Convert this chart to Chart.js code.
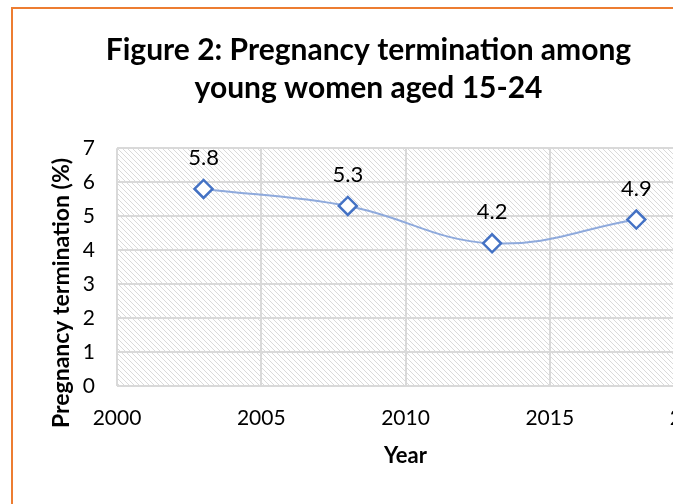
<!doctype html>
<html lang="en">
<head>
  <meta charset="utf-8">
  <title>Pregnancy termination</title>
  <style>
    html, body { margin: 0; padding: 0; background: #fff; overflow: hidden; }
    #frame {
      position: absolute; left: 11px; top: 7px;
      width: 660px; height: 497px;
      border-left: 2px solid #ED7D31; border-top: 2px solid #ED7D31;
      overflow: hidden;
    }
  </style>
</head>
<body>
  <div id="frame">
    <canvas id="myChart" width="740" height="495"></canvas>
  </div>
  <script src="https://cdn.jsdelivr.net/npm/chart.js"></script>
  <script>
    const years = [2003, 2008, 2013, 2018];
    const termination = [5.8, 5.3, 4.2, 4.9];
    // \u200C keeps Lato from merging "ti" into a ligature
    const titleLines = ['Figure 2: Pregnancy termina\u200Ction among', 'young women aged 15-24'];
    const yTitle = 'Pregnancy termina\u200Ction (%)';
    const xTitle = 'Year';

    const FONT = 'Lato';

    // light grey downward-diagonal hatch for the plot area
    const tile = document.createElement('canvas');
    tile.width = 5; tile.height = 5;
    const tctx = tile.getContext('2d');
    tctx.fillStyle = '#fff';
    tctx.fillRect(0, 0, 5, 5);
    tctx.fillStyle = '#dadada';
    for (let i = 0; i < 5; i++) tctx.fillRect(i, i, 1, 1);

    const hatch = {
      id: 'hatch',
      beforeDraw(chart) {
        const {ctx, chartArea: a} = chart;
        ctx.save();
        ctx.fillStyle = ctx.createPattern(tile, 'repeat');
        ctx.fillRect(a.left, a.top, a.right - a.left, a.bottom - a.top);
        ctx.restore();
      }
    };

    const valueLabels = {
      id: 'valueLabels',
      afterDatasetsDraw(chart) {
        const ctx = chart.ctx;
        const meta = chart.getDatasetMeta(0);
        ctx.save();
        ctx.font = '22px ' + FONT;
        ctx.fillStyle = '#000';
        ctx.textAlign = 'center';
        ctx.textBaseline = 'middle';
        meta.data.forEach((pt, i) => {
          ctx.fillText(termination[i].toFixed(1), pt.x, pt.y - 31);
        });
        ctx.restore();
      }
    };

    // the y title sits a bit below the middle of the axis, as in the original
    const yAxisTitle = {
      id: 'yAxisTitle',
      afterDraw(chart) {
        const ctx = chart.ctx;
        ctx.save();
        ctx.translate(49, 284);
        ctx.rotate(-Math.PI / 2);
        ctx.font = 'bold 23px ' + FONT;
        ctx.fillStyle = '#000';
        ctx.textAlign = 'center';
        ctx.textBaseline = 'middle';
        ctx.fillText(yTitle, 0, 0);
        ctx.restore();
      }
    };

    const data = {
      datasets: [{
        data: years.map((y, i) => ({x: y, y: termination[i]})),
        borderColor: '#8FAADC',
        borderWidth: 2,
        tension: 0.4,
        pointStyle: 'rectRot',
        pointRadius: 9,
        pointBorderWidth: 2.5,
        pointBorderColor: '#4472C4',
        pointBackgroundColor: '#fff'
      }]
    };

    const config = {
      type: 'line',
      data: data,
      options: {
        responsive: false,
        animation: false,
        layout: { padding: { left: 30, right: 59, top: 0, bottom: 20 } },
        plugins: {
          legend: { display: false },
          tooltip: { enabled: false },
          title: {
            display: true,
            text: titleLines,
            color: '#000',
            font: { family: FONT, size: 30, weight: 'bold', lineHeight: 1.27 },
            padding: { top: 22, bottom: 41 }
          }
        },
        scales: {
          x: {
            type: 'linear',
            min: 2000, max: 2020,
            afterFit: s => { s.height = 98; },
            grid: { color: '#d9d9d9', lineWidth: 2, drawTicks: false },
            border: { display: false },
            ticks: { stepSize: 5, padding: 20, color: '#000', font: { family: FONT, size: 21 },
                     callback: v => String(v) },
            title: { display: true, text: xTitle, color: '#000',
                     font: { family: FONT, size: 22, weight: 'bold' }, padding: { top: 0, bottom: 15 } }
          },
          y: {
            min: 0, max: 7,
            afterFit: s => { s.width = 74; },
            grid: { color: '#d9d9d9', lineWidth: 2, drawTicks: false },
            border: { display: false },
            ticks: { stepSize: 1, padding: 22, color: '#000', font: { family: FONT, size: 21 } }
          }
        }
      },
      plugins: [hatch, valueLabels, yAxisTitle]
    };

    const myChart = new Chart(document.getElementById('myChart'), config);
  </script>
</body>
</html>
